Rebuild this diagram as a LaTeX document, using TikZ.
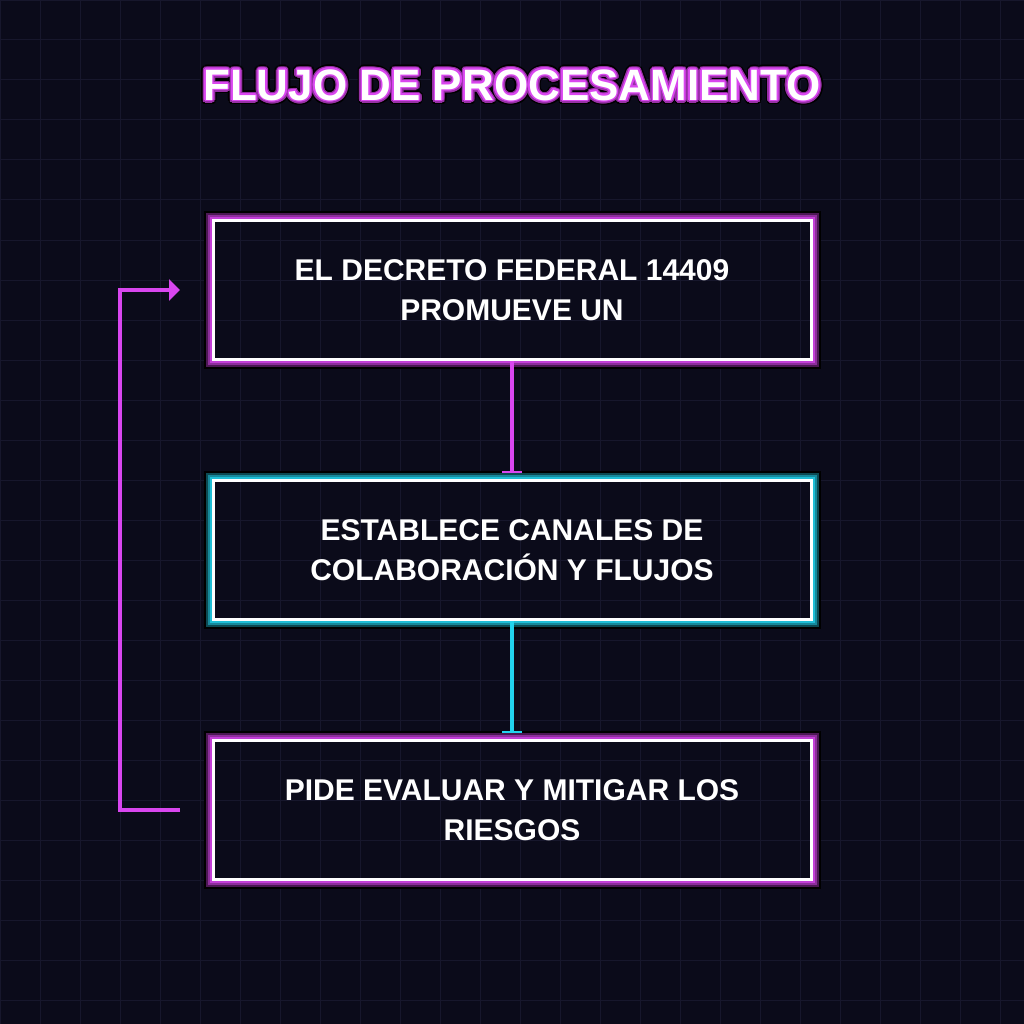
\documentclass[tikz,border=0pt]{standalone}
\usepackage{fontspec}
\setmainfont{Liberation Sans}
\usetikzlibrary{positioning,arrows.meta}

\definecolor{bgdark}{HTML}{0B0B1A}
\definecolor{gridline}{HTML}{17172C}
\definecolor{neonpink}{HTML}{D946EF}
\definecolor{neoncyan}{HTML}{22D3EE}

\tikzset{
  stepbox/.style={draw=white, line width=3pt, minimum width=598pt, minimum height=139pt,
    align=center, text=white, font=\bfseries\fontsize{30}{40}\selectfont},
  titletext/.style={font=\bfseries\fontsize{44}{50}\selectfont, inner sep=0pt},
  flowarrow/.style={line width=4pt, -{Bar[width=20pt,line width=2pt]}},
  loopback/.style={line width=3.5pt, neonpink, -{Triangle[length=11pt,width=21pt]}}
}

% glow round a box: layers outside the white frame
\newcommand{\neonglow}[2]{%
  \foreach \d/\c in {7/black, 5/#2!35!black, 3/#2!65!black, 1/#2!90!black}
    \draw[line width=2pt, color=\c] ([shift={(-\d,\d)}]#1.south west) rectangle ([shift={(\d,-\d)}]#1.north east);
}

\begin{document}
\begin{tikzpicture}[x=1pt, y=-1pt]
  \useasboundingbox (0,0) rectangle (1024,1024);
  \fill[bgdark] (0,0) rectangle (1024,1024);
  \draw[gridline, line width=1pt] (0,0) grid[step=40pt] (1024,1024);

  % title with glow
  \foreach \a in {0,20,...,340} {
    \node[titletext, text=black] at ([shift={(\a:4.5)}]512,85) {FLUJO DE PROCESAMIENTO};
  }
  \foreach \a in {0,20,...,340} {
    \node[titletext, text=neonpink!70!black] at ([shift={(\a:3)}]512,85) {FLUJO DE PROCESAMIENTO};
  }
  \foreach \a in {0,30,...,330} {
    \node[titletext, text=neonpink] at ([shift={(\a:1.5)}]512,85) {FLUJO DE PROCESAMIENTO};
  }
  \node[titletext, text=white] (title) at (512,85) {FLUJO DE PROCESAMIENTO};

  % steps
  \node[stepbox] (decreto) at (512,290) {EL DECRETO FEDERAL 14409\\PROMUEVE UN};
  \node[stepbox, below=118pt of decreto] (canales) {ESTABLECE CANALES DE\\COLABORACIÓN Y FLUJOS};
  \node[stepbox, below=118pt of canales] (riesgos) {PIDE EVALUAR Y MITIGAR LOS\\RIESGOS};

  \neonglow{decreto}{neonpink}
  \neonglow{canales}{neoncyan}
  \neonglow{riesgos}{neonpink}

  % connectors
  \draw[flowarrow, neonpink] (decreto.south) -- ([yshift=6.5pt]canales.north);
  \draw[flowarrow, neoncyan] (canales.south) -- ([yshift=6.5pt]riesgos.north);
  \draw[loopback] ([xshift=-31.5pt]riesgos.west) -- ++(-60,0) |- ([xshift=-31.5pt]decreto.west);
\end{tikzpicture}
\end{document}
